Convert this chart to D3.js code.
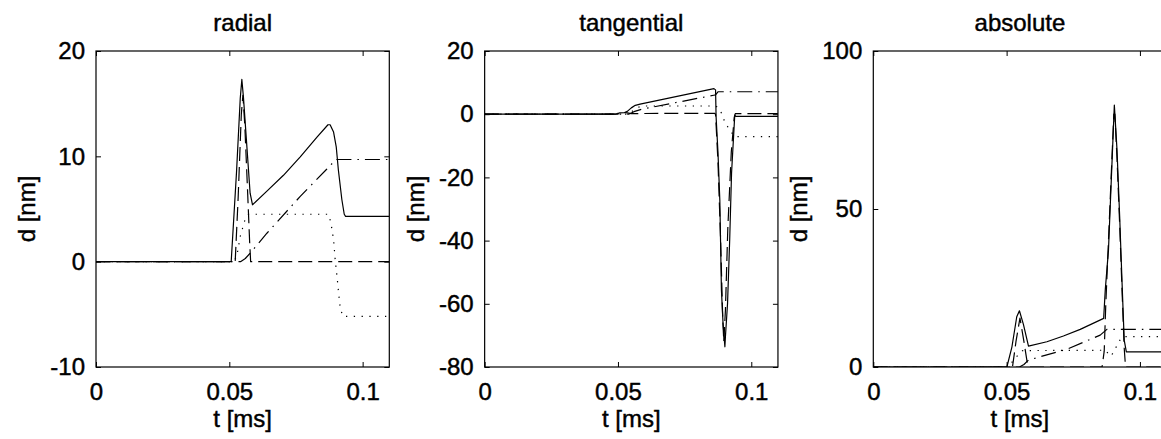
<!DOCTYPE html>
<html>
<head>
<meta charset="utf-8">
<script src="https://cdn.jsdelivr.net/npm/d3@7"></script>
<style>
  html, body { margin: 0; padding: 0; background: #fff; }
  svg { display: block; }
  text { font-family: "Liberation Sans", Arial, Helvetica, sans-serif; fill: #000; stroke: #000; stroke-width: 0.45px; }
</style>
</head>
<body>
<svg id="chart" width="1161" height="439"></svg>
<script>
// ---------- data (t in ms, d in nm) ----------
const panelTitles = ["radial", "tangential", "absolute"];
const xLabel = "t [ms]";
const yLabel = "d [nm]";
const xDomain = [0, 0.11];
const xTicks = [0, 0.05, 0.1];
const xTickLabels = ["0", "0.05", "0.1"];
const yDomains = [[-10, 20], [-80, 20], [0, 100]];
const yTicks = [[-10, 0, 10, 20], [-80, -60, -40, -20, 0, 20], [0, 50, 100]];
const seriesStyles = ["solid", "dashed", "dotted", "dashdot"];

// radial
const radialSolid = [[0,0],[0.0507,0],[0.0527,8.5],[0.0541,15.5],[0.0547,17.3],[0.0553,15.6],[0.0567,10.5],[0.0578,6.5],[0.0587,5.4],[0.0641,6.7],[0.0703,8.2],[0.0766,9.95],[0.0828,11.8],[0.0870,13.0],[0.0878,13.0],[0.0891,12.3],[0.0901,10.9],[0.0909,8.7],[0.0922,5.9],[0.0931,4.5],[0.0936,4.3],[0.11,4.3]];
const radialDashed = [[0,0],[0.0522,0],[0.0533,6],[0.0545,14],[0.0551,15.8],[0.0558,13],[0.0568,7],[0.0576,2],[0.0580,0],[0.11,0]];
const radialDotted = [[0,0],[0.0516,0],[0.0528,0.5],[0.0541,2.4],[0.0559,4.0],[0.0572,4.5],[0.0872,4.5],[0.0881,3.7],[0.0891,2.1],[0.0897,0.2],[0.0904,-1.4],[0.0910,-3.0],[0.0916,-4.4],[0.0926,-5.2],[0.11,-5.2]];
const radialDashDot = [[0,0],[0.0542,0],[0.0560,0.3],[0.0578,0.8],[0.0641,2.7],[0.0766,6.2],[0.0866,8.8],[0.0900,9.7],[0.11,9.7]];

// tangential
const tangSolid = [[0,0],[0.0495,0],[0.0505,0.4],[0.0525,0.5],[0.0535,0.9],[0.0550,2.0],[0.0565,2.8],[0.0583,3.2],[0.0860,8.1],[0.0866,7.7],[0.0868,-0.8],[0.0875,-12],[0.0882,-27.2],[0.0888,-55.6],[0.0894,-66.1],[0.0901,-73.6],[0.0903,-70.4],[0.0911,-59.8],[0.0919,-39.8],[0.0926,-18.6],[0.0938,-0.3],[0.0942,-0.7],[0.11,-0.7]];
const tangDashed = [[0,0],[0.0490,0],[0.0505,0.4],[0.0520,0.6],[0.0535,0.4],[0.0550,0.2],[0.0862,0.3],[0.0866,0],[0.0875,-15],[0.0885,-40],[0.0893,-65],[0.0897,-72],[0.0903,-62],[0.0912,-36],[0.0925,-12],[0.0936,-1],[0.0940,0.2],[0.11,0.2]];
const tangDotted = [[0,0],[0.0540,0],[0.0555,1.0],[0.0570,2.0],[0.0590,2.6],[0.0866,2.6],[0.0879,1.9],[0.0892,-0.3],[0.0900,-2.4],[0.0919,-5.0],[0.0938,-7.1],[0.11,-7.1]];
const tangDashDot = [[0,0],[0.0540,0],[0.0560,0.8],[0.0590,1.6],[0.0859,6.0],[0.0866,6.1],[0.0875,7.1],[0.11,7.1]];

// absolute
const absSolid = [[0,0],[0.0501,0],[0.0520,6.4],[0.0538,15.9],[0.0548,17.8],[0.0563,13.5],[0.0582,6.6],[0.0651,8.0],[0.0713,9.8],[0.0776,11.9],[0.0864,15.4],[0.0870,24.4],[0.0882,37],[0.0892,58],[0.0904,82.9],[0.0914,68.7],[0.0924,47.6],[0.0933,26.5],[0.0941,8.5],[0.0949,4.8],[0.11,4.8]];
const absDashed = [[0,0],[0.0522,0],[0.0535,8],[0.0550,15.5],[0.0565,8],[0.0578,1],[0.0582,0],[0.0858,0],[0.0866,5],[0.0872,20],[0.0882,40],[0.0893,62],[0.0902,80],[0.0906,80],[0.0914,66],[0.0924,45],[0.0933,24],[0.0941,6],[0.0946,0],[0.11,0]];
const absDotted = [[0,0],[0.0505,0],[0.0520,1.5],[0.0540,3.5],[0.0560,5.2],[0.0870,5.3],[0.0880,4.4],[0.0890,3.4],[0.0900,4.5],[0.0912,6.5],[0.0925,8.5],[0.0938,9.6],[0.11,9.6]];
const absDashDot = [[0,0],[0.0548,0],[0.0565,0.8],[0.0582,2.2],[0.0726,5.6],[0.0851,10.1],[0.0876,11.9],[0.11,11.9]];

const panelSeries = [
  [radialSolid, radialDashed, radialDotted, radialDashDot],
  [tangSolid, tangDashed, tangDotted, tangDashDot],
  [absSolid, absDashed, absDotted, absDashDot]
];

// ---------- layout ----------
const svg = d3.select("#chart");
const FONT = 24;
const plotTop = 51, plotH = 316, plotW = 293.3;
const panelLeft0 = 96, panelStep = 388.65;
const tickLen = 5;
const dashes = { solid: null, dashed: "14,6", dotted: "1.3,6.5", dashdot: "15,6,1.5,6" };

panelTitles.forEach((title, i) => {
  const left = panelLeft0 + i * panelStep;
  const g = svg.append("g").attr("transform", `translate(${left},${plotTop})`);
  const x = d3.scaleLinear().domain(xDomain).range([0, plotW]);
  const y = d3.scaleLinear().domain(yDomains[i]).range([plotH, 0]);

  const clipId = "clip" + i;
  g.append("clipPath").attr("id", clipId).append("rect")
    .attr("x", 0).attr("y", 0).attr("width", plotW).attr("height", plotH);

  const line = d3.line().x(d => x(d[0])).y(d => y(d[1]));
  const lg = g.append("g").attr("clip-path", `url(#${clipId})`);
  panelSeries[i].forEach((data, k) => {
    lg.append("path")
      .datum(data)
      .attr("d", line)
      .attr("fill", "none")
      .attr("stroke", "#000")
      .attr("stroke-width", 1.2)
      .attr("stroke-linejoin", "round")
      .attr("stroke-dasharray", dashes[seriesStyles[k]]);
  });

  const fmt = (d) => xTickLabels[xTicks.indexOf(d)];
  const xb = g.append("g").attr("transform", `translate(0,${plotH})`)
    .call(d3.axisBottom(x).tickValues(xTicks).tickFormat(fmt).tickSizeInner(-tickLen).tickSizeOuter(0).tickPadding(16));
  const xt = g.append("g")
    .call(d3.axisTop(x).tickValues(xTicks).tickFormat("").tickSizeInner(-tickLen).tickSizeOuter(0));
  const yl = g.append("g")
    .call(d3.axisLeft(y).tickValues(yTicks[i]).tickFormat(d => String(d)).tickSizeInner(-tickLen).tickSizeOuter(0).tickPadding(11));
  const yr = g.append("g").attr("transform", `translate(${plotW},0)`)
    .call(d3.axisRight(y).tickValues(yTicks[i]).tickFormat("").tickSizeInner(-tickLen).tickSizeOuter(0));

  [xb, xt, yl, yr].forEach(a => {
    a.select(".domain").remove();
    a.selectAll("line").attr("stroke", "#000").attr("stroke-width", 1);
    a.selectAll("text").style("font-size", FONT + "px").style("font-family", '"Liberation Sans", Arial, sans-serif')
      .attr("fill", "#000").attr("stroke", "#000").attr("stroke-width", 0.45);
  });

  g.append("rect").attr("x", 0).attr("y", 0).attr("width", plotW).attr("height", plotH)
    .attr("fill", "none").attr("stroke", "#000").attr("stroke-width", 1.2);

  g.append("text").attr("x", plotW / 2).attr("y", 31 - plotTop)
    .attr("text-anchor", "middle").style("font-size", FONT + "px").text(title);

  g.append("text").attr("x", plotW / 2).attr("y", 427 - plotTop)
    .attr("text-anchor", "middle").style("font-size", FONT + "px").text(xLabel);

  let maxW = 0;
  yl.selectAll("text").each(function () { maxW = Math.max(maxW, this.getComputedTextLength()); });
  const yx = -(11 + maxW + 15);
  g.append("text")
    .attr("transform", `translate(${yx},${plotH / 2}) rotate(-90)`)
    .attr("text-anchor", "middle").style("font-size", FONT + "px").text(yLabel);
});
</script>
</body>
</html>
